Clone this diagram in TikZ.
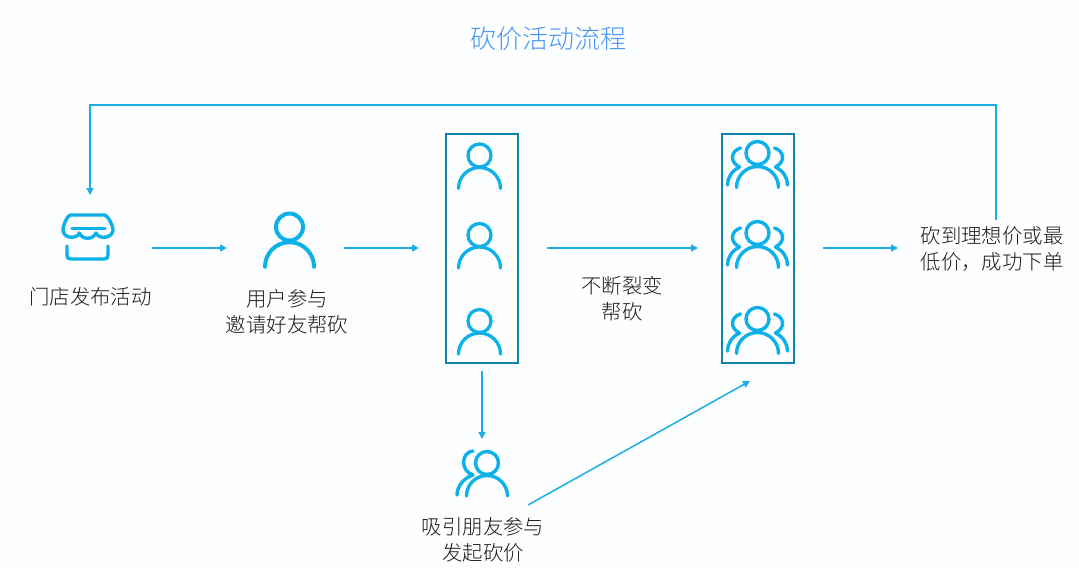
\documentclass[tikz,border=0pt]{standalone}
\usepackage{fontspec}
\setmainfont{Noto Sans CJK SC Light}
\usetikzlibrary{arrows.meta}
\definecolor{icon}{HTML}{0DB0E8}
\definecolor{arrowc}{HTML}{1BAEE4}
\definecolor{boxc}{HTML}{0E84AE}
\definecolor{titlec}{HTML}{4C96F5}
\definecolor{txt}{HTML}{1A1A1A}
\definecolor{bg}{HTML}{FDFEFF}
\tikzset{
  x=1pt,y=-1pt,
  link/.style={draw=arrowc,line width=1.5pt,-{Triangle[length=7pt,width=7pt]}},
  holder/.style={draw=boxc,line width=2pt,minimum width=72pt,minimum height=229pt,inner sep=0pt},
  ic/.style={draw=icon,line cap=round,line join=round,fill=none},
  label/.style={font=\fontsize{20.4}{26}\selectfont,text=txt,align=center,inner sep=0pt},
  pics/person/.style={code={
    \draw[ic,line width=3.3pt] (0,0) circle (11.5);
    \draw[ic,line width=3.3pt] (-21,33) arc[start angle=180,end angle=360,radius=21];
  }},
  pics/bigperson/.style={code={
    \draw[ic,line width=4pt] (0,0) circle (13.5);
    \draw[ic,line width=4pt] (-24.5,39.7) arc[start angle=180,end angle=360,radius=24.5];
  }},
  pics/crowd/.style={code={
    \draw[ic,line width=3.4pt] (0,0) circle (11.5);
    \draw[ic,line width=3.4pt] (-21,34.5) arc[start angle=180,end angle=360,radius=21];
    \draw[ic,line width=3.4pt] (-17,-5) .. controls (-27,-2) and (-28,9) .. (-18,14) .. controls (-26,18) and (-30,25) .. (-30,32);
    \draw[ic,line width=3.4pt] (17,-5) .. controls (27,-2) and (28,9) .. (18,14) .. controls (26,18) and (30,25) .. (30,32);
  }},
  pics/pair/.style={code={
    \draw[ic,line width=3.4pt] (0,0) circle (11.5);
    \draw[ic,line width=3.4pt] (-20.5,33) arc[start angle=180,end angle=360,radius=20.5];
    \draw[ic,line width=3.4pt] (-14,-12) .. controls (-26,-11) and (-27,8) .. (-14,12) .. controls (-23,15) and (-30,23) .. (-30,32);
  }},
}
\begin{document}
\begin{tikzpicture}
\useasboundingbox[fill=bg] (0,0) rectangle (1079,574);
\node[font=\fontsize{26}{30}\selectfont,text=titlec,inner sep=0pt] (title) at (548.5,39) {砍价活动流程};

% store icon
\begin{scope}[line width=3.4pt]
\draw[ic] (72,228.5) -- (105,228.5);
\draw[ic] (71,215) -- (104,215) .. controls (108,215) and (113,226) .. (113,230)
  .. controls (113,238) and (99,240) .. (96,233)
  .. controls (93,240) and (82,240) .. (79.5,233) .. controls (76,240) and (63,238) .. (63,230)
  .. controls (63,226) and (67,215) .. (71,215);
\draw[ic] (67,246) -- (67,255) .. controls (67,258) and (68,259) .. (71,259) -- (104,259) .. controls (107,259) and (108,258) .. (108,255) -- (108,246);
\end{scope}
\coordinate (storeOut) at (152,248);
\coordinate (userIn) at (227,248);
\coordinate (userOut) at (344,248);
\node[label] (storeText) at (90.5,297) {门店发布活动};

\pic at (289.5,227) {bigperson};
\node[label] (userText) at (287,312) {用户参与\\邀请好友帮砍};

\node[holder] (boxA) at (482,248.5) {};
\pic at (479.5,155.5) {person};
\pic at (479.5,235) {person};
\pic at (479.5,321) {person};

\node[holder] (boxB) at (758,248.5) {};
\pic at (757.5,153) {crowd};
\pic at (757.5,233) {crowd};
\pic at (757.5,319) {crowd};

\node[label] (spread) at (622,299) {不断裂变\\帮砍};
\node[label] (deal) at (992,249) {砍到理想价或最\\低价，成功下单};

\pic at (487,463) {pair};
\node[label] (pairText) at (483,540) {吸引朋友参与\\发起砍价};

\coordinate (aIn) at (419,248);
\coordinate (aOut) at (547,248);
\coordinate (bIn) at (698,248);
\coordinate (bOut) at (823,248);
\coordinate (dealIn) at (898,248);
\coordinate (aDown) at (482,371);
\coordinate (pairIn) at (482,439);
\coordinate (pairOut) at (528,505);
\coordinate (bUp) at (750,381);
\coordinate (dealUp) at (996,220);
\coordinate (storeIn) at (90,195);

\draw[link] (storeOut) -- (userIn);
\draw[link] (userOut) -- (aIn);
\draw[link] (aOut) -- (bIn);
\draw[link] (bOut) -- (dealIn);
\draw[link] (aDown) -- (pairIn);
\draw[link] (pairOut) -- (bUp);
\draw[link] (dealUp) -- (996,105) -- (90,105) -- (storeIn);
\end{tikzpicture}
\end{document}
